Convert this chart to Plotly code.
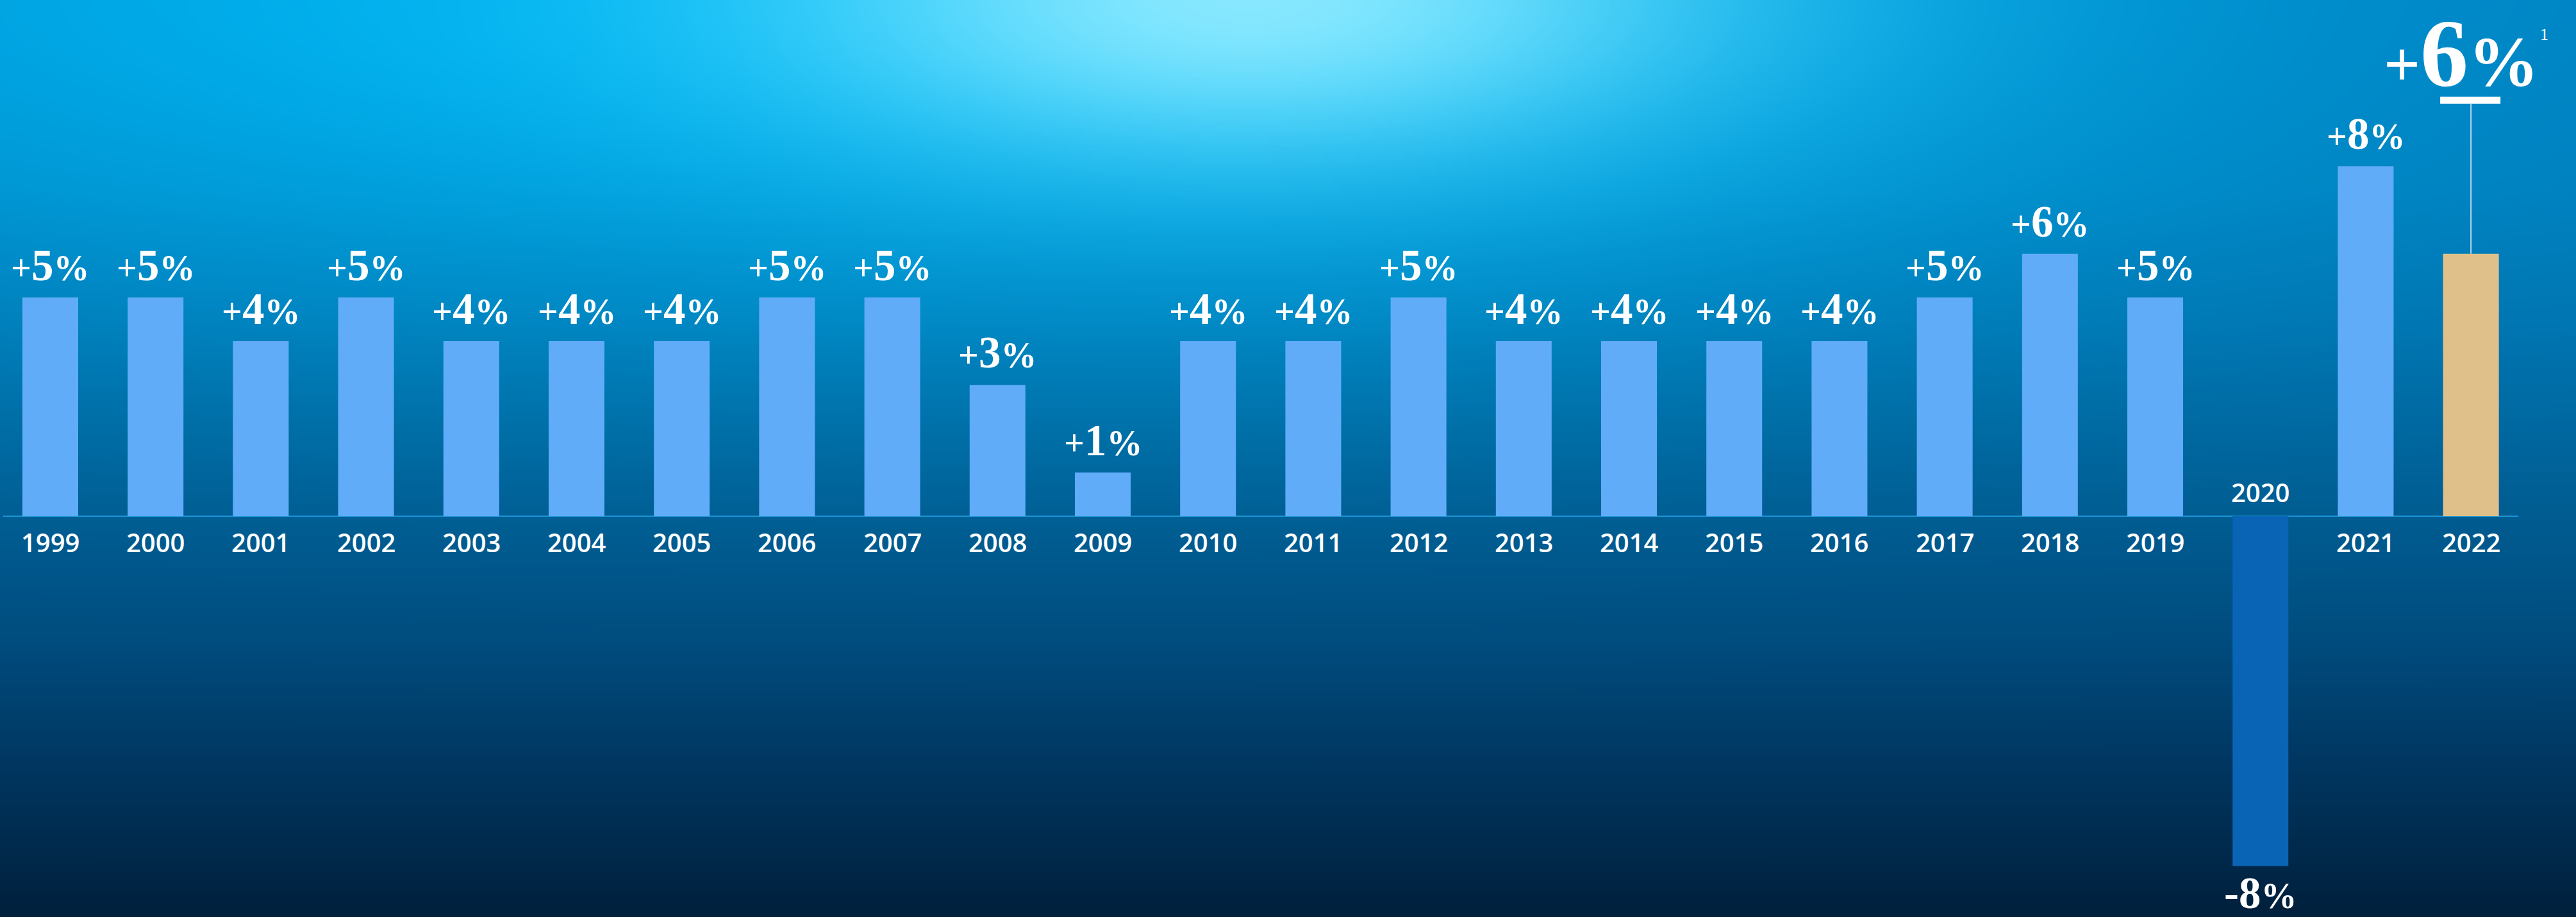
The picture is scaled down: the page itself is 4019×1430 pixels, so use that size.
import base64
import struct
import zlib

import numpy as np
import plotly.graph_objects as go

# ---------------- data ----------------
years = ["1999", "2000", "2001", "2002", "2003", "2004", "2005", "2006",
         "2007", "2008", "2009", "2010", "2011", "2012", "2013", "2014",
         "2015", "2016", "2017", "2018", "2019", "2020", "2021", "2022"]
growth = [5, 5, 4, 5, 4, 4, 4, 5, 5, 3, 1, 4, 4, 5, 4, 4, 4, 4, 5, 6, 5, -8, 8, 6]
highlight_year = "2022"
footnote = "1"

# ---------------- canvas ----------------
W, H = 4019, 1430
XMIN, XMAX = -0.478, 23.998
YMIN, YMAX = -9.164, 11.80
PPX = W / (XMAX - XMIN)
PPY = H / (YMAX - YMIN)
BAR_BLUE = "#60ACF8"
BAR_NEG = "#0A64B6"
BAR_GOLD = "#E0C08A"


def background_png(w, h):
    X = (np.arange(w) + 0.5) * W / w
    Y = (np.arange(h) + 0.5) * H / h
    XX, YY = np.meshgrid(X, Y)
    sy = [0, 300, 500, 805, 1000, 1200, 1430]
    sc = np.array([[0, 128, 192], [0, 126, 188], [0, 116, 176], [0, 92, 145],
                   [0, 76, 126], [0, 54, 96], [0, 32, 60]], float)
    base = np.stack([np.interp(YY, sy, sc[:, k]) for k in range(3)], -1)
    sx = np.where(XX < 1800, 2600.0, 1500.0)
    w1 = np.exp(-((XX - 1800) / sx) ** 2 - (YY / 460.0) ** 2)
    cyan = np.array([0, 188, 248], float)
    img = base + (cyan - base) * w1[..., None]
    w2 = np.exp(-((XX - 1950) / 700.0) ** 2 - (YY / 240.0) ** 2)
    core = np.array([135, 232, 255], float)
    img = img + (core - img) * w2[..., None]
    arr = np.clip(img, 0, 255).astype(np.uint8)
    raw = b"".join(b"\x00" + arr[i].tobytes() for i in range(h))

    def chunk(t, d):
        c = struct.pack(">I", len(d)) + t + d
        return c + struct.pack(">I", zlib.crc32(t + d) & 0xFFFFFFFF)

    png = (b"\x89PNG\r\n\x1a\n"
           + chunk(b"IHDR", struct.pack(">IIBBBBB", w, h, 8, 2, 0, 0, 0))
           + chunk(b"IDAT", zlib.compress(raw, 9))
           + chunk(b"IEND", b""))
    return "data:image/png;base64," + base64.b64encode(png).decode()


colors = [BAR_GOLD if y == highlight_year else (BAR_NEG if v < 0 else BAR_BLUE)
          for y, v in zip(years, growth)]

fig = go.Figure(go.Bar(x=years, y=growth, marker=dict(color=colors, line=dict(width=0)),
                       hoverinfo="skip"))

SERIF = "Liberation Serif"
SANS = "Open Sans"

annotations = []
for i, (y, v) in enumerate(zip(years, growth)):
    if y == highlight_year:
        txt = ("<b><span style='font-size:100px'>+</span>%d"
               "<span style='font-size:110px'>%%</span></b>" % abs(v))
        annotations.append(dict(x=i, y=v, text=txt, showarrow=False, xanchor="center",
                                yanchor="bottom", xshift=-15, yshift=228,
                                font=dict(family=SERIF, size=150, color="white")))
        annotations.append(dict(x=i, y=v, text=footnote, showarrow=False, xanchor="center",
                                yanchor="bottom", xshift=114, yshift=326,
                                font=dict(family=SERIF, size=26, color="white")))
    elif v > 0:
        txt = ("<b><span style='font-size:56px'>+</span>%d"
               "<span style='font-size:56px'>%%</span></b>" % v)
        annotations.append(dict(x=i, y=v, text=txt, showarrow=False,
                                xanchor="center", yanchor="bottom", yshift=10,
                                font=dict(family=SERIF, size=69, color="white")))
    else:
        txt = "<b>-%d<span style='font-size:56px'>%%</span></b>" % abs(v)
        annotations.append(dict(x=i, y=v, text=txt, showarrow=False,
                                xanchor="center", yanchor="top", yshift=-2,
                                font=dict(family=SERIF, size=69, color="white")))
    # year label (above the axis for a negative bar)
    annotations.append(dict(x=i, y=0, text=y, showarrow=False, xanchor="center",
                            yanchor="middle", yshift=(37 if v < 0 else -41),
                            font=dict(family=SANS, size=40, color="white", weight=600)))

hi = years.index(highlight_year)
hv = growth[hi]
line_top = hv + 234 / PPY
shapes = [
    # baseline
    dict(type="line", xref="paper", yref="y", x0=0.0012, x1=0.9776, y0=0, y1=0,
         line=dict(color="#1C95D6", width=2), layer="below"),
    # connector from highlighted bar up to headline
    dict(type="line", xref="x", yref="y", x0=hi, x1=hi, y0=hv, y1=line_top,
         line=dict(color="rgba(215,230,240,0.85)", width=2)),
    # white dash under headline
    dict(type="rect", xref="x", yref="y", x0=hi - 48 / PPX, x1=hi + 46 / PPX,
         y0=line_top, y1=line_top + 11 / PPY,
         fillcolor="white", line=dict(width=0)),
]

fig.update_layout(
    width=W, height=H,
    margin=dict(l=0, r=0, t=0, b=0, pad=0),
    paper_bgcolor="#00406C",
    plot_bgcolor="rgba(0,0,0,0)",
    showlegend=False,
    bargap=0.47,
    xaxis=dict(type="category", categoryorder="array", categoryarray=years,
               range=[XMIN, XMAX], visible=False, fixedrange=True),
    yaxis=dict(range=[YMIN, YMAX], visible=False, fixedrange=True),
    images=[dict(source=background_png(1005, 358), xref="paper", yref="paper",
                 x=0, y=1, sizex=1, sizey=1, xanchor="left", yanchor="top",
                 sizing="stretch", layer="below")],
    annotations=annotations,
    shapes=shapes,
)

fig.write_html("out.html", config=dict(displayModeBar=False),
               post_script="document.body.style.margin='0';document.body.style.overflow='hidden';")
